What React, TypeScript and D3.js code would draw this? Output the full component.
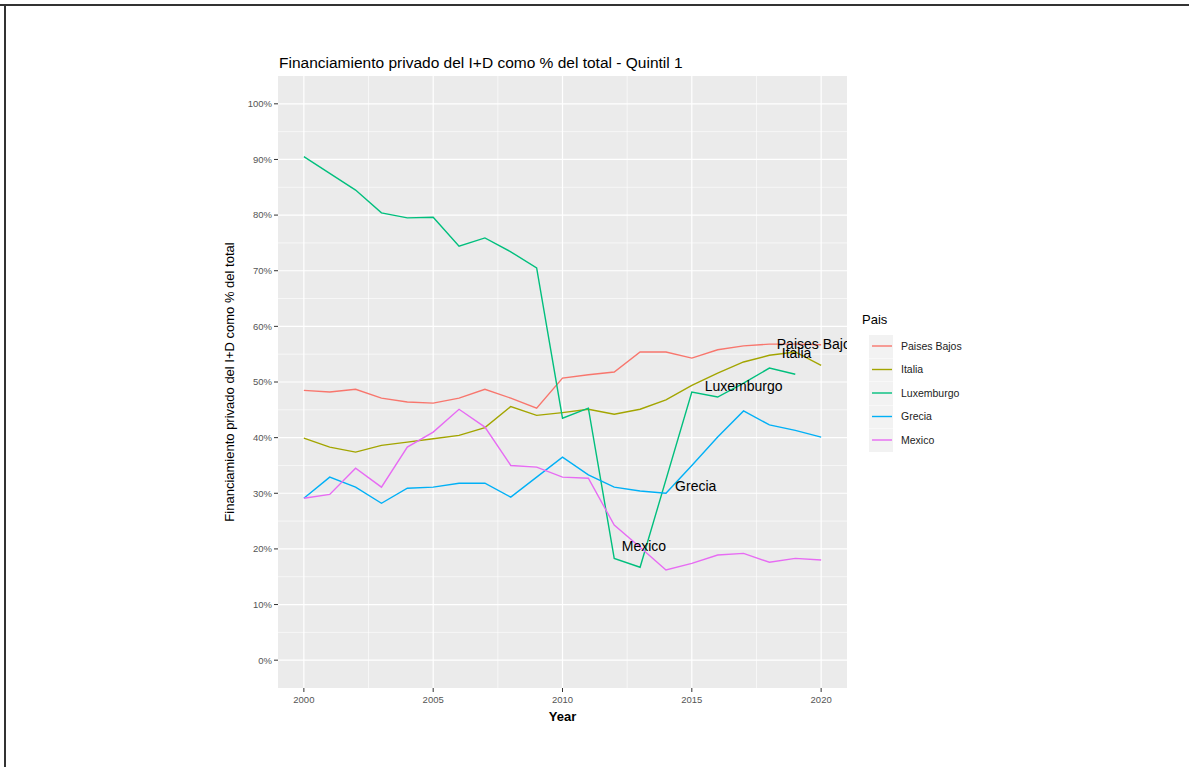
import React from "react";
import * as d3 from "d3";

const years = [2000, 2001, 2002, 2003, 2004, 2005, 2006, 2007, 2008, 2009, 2010, 2011, 2012, 2013, 2014, 2015, 2016, 2017, 2018, 2019, 2020];

const paisesBajos = [48.5, 48.2, 48.7, 47.1, 46.4, 46.2, 47.1, 48.7, 47.1, 45.3, 50.7, 51.3, 51.8, 55.4, 55.4, 54.3, 55.8, 56.5, 56.8, 56.8, 56.7];
const italia = [39.9, 38.3, 37.4, 38.6, 39.2, 39.8, 40.4, 41.8, 45.6, 44.0, 44.5, 45.1, 44.2, 45.1, 46.8, 49.4, 51.6, 53.6, 54.8, 55.4, 53.0];
const luxemburgo = [90.5, 87.5, 84.5, 80.4, 79.5, 79.6, 74.4, 75.9, 73.4, 70.5, 43.5, 45.3, 18.3, 16.7, null, 48.2, 47.3, 49.8, 52.5, 51.4, null];
const grecia = [29.1, 32.9, 31.1, 28.2, 30.9, 31.1, 31.8, 31.8, 29.3, 32.9, 36.5, 33.3, 31.1, 30.4, 30.0, 35.0, 40.1, 44.8, 42.3, 41.3, 40.1];
const mexico = [29.1, 29.8, 34.5, 31.1, 38.3, 41.0, 45.1, 41.9, 35.0, 34.7, 32.9, 32.7, 24.3, 20.3, 16.2, 17.4, 18.9, 19.2, 17.6, 18.3, 18.0];

const countries = ["Paises Bajos", "Italia", "Luxemburgo", "Grecia", "Mexico"];
const colors = ["#F8766D", "#A3A500", "#00BF7D", "#00B0F6", "#E76BF3"];
const seriesValues = [paisesBajos, italia, luxemburgo, grecia, mexico];

// direct labels (year, value) as placed in the original
const labelYears = [2019.85, 2019.05, 2017.0, 2015.15, 2013.15];
const labelValues = [56.9, 55.2, 49.3, 31.2, 20.5];

const yTicks = [0, 10, 20, 30, 40, 50, 60, 70, 80, 90, 100];
const xTicks = [2000, 2005, 2010, 2015, 2020];

const TITLE = "Financiamiento privado del I+D como % del total - Quintil 1";
const Y_TITLE = "Financiamiento privado del I+D como % del total";
const X_TITLE = "Year";
const LEGEND_TITLE = "Pais";

export default function App() {
  const W = 1189, H = 767;
  const panel = { left: 278, right: 847, top: 76, bottom: 688 };
  const x = d3.scaleLinear().domain([1999, 2021]).range([panel.left, panel.right]);
  const y = d3.scaleLinear().domain([-5, 105]).range([panel.bottom, panel.top]);

  const line = d3
    .line<[number, number]>()
    .x((d) => x(d[0]))
    .y((d) => y(d[1]));

  const xMinor = [2002.5, 2007.5, 2012.5, 2017.5];
  const yMinor = [5, 15, 25, 35, 45, 55, 65, 75, 85, 95];
  const font = "Liberation Sans, Arial, sans-serif";

  const legendX = 862, legendY0 = 346, legendStep = 23.5;

  return (
    <svg width={W} height={H} style={{ position: "absolute", left: 0, top: 0 }} fontFamily={font}>
      <rect x={0} y={0} width={W} height={H} fill="#fff" />
      <line x1={0} x2={W} y1={5} y2={5} stroke="#333" strokeWidth={2} />
      <line x1={5} x2={5} y1={5} y2={H} stroke="#333" strokeWidth={2} />
      <defs>
        <clipPath id="panelClip">
          <rect x={panel.left} y={panel.top} width={panel.right - panel.left} height={panel.bottom - panel.top} />
        </clipPath>
      </defs>
      <rect x={panel.left} y={panel.top} width={panel.right - panel.left} height={panel.bottom - panel.top} fill="#EBEBEB" />
      {yMinor.map((v) => (
        <line key={"ym" + v} x1={panel.left} x2={panel.right} y1={y(v)} y2={y(v)} stroke="#fff" strokeWidth={0.6} />
      ))}
      {xMinor.map((v) => (
        <line key={"xm" + v} y1={panel.top} y2={panel.bottom} x1={x(v)} x2={x(v)} stroke="#fff" strokeWidth={0.6} />
      ))}
      {yTicks.map((v) => (
        <line key={"yg" + v} x1={panel.left} x2={panel.right} y1={y(v)} y2={y(v)} stroke="#fff" strokeWidth={1.2} />
      ))}
      {xTicks.map((v) => (
        <line key={"xg" + v} y1={panel.top} y2={panel.bottom} x1={x(v)} x2={x(v)} stroke="#fff" strokeWidth={1.2} />
      ))}
      <g clipPath="url(#panelClip)">
        {seriesValues.map((vals, i) => {
          const pts = years
            .map((yr, j) => [yr, vals[j]] as [number, number | null])
            .filter((d) => d[1] != null) as [number, number][];
          return (
            <path key={countries[i]} d={line(pts) || ""} fill="none" stroke={colors[i]} strokeWidth={1.4} />
          );
        })}
        {countries.map((c, i) => (
          <text key={"lab" + c} x={x(labelYears[i])} y={y(labelValues[i])} dy="0.35em" textAnchor="middle" fontSize={14} fill="#000">
            {c}
          </text>
        ))}
      </g>
      {yTicks.map((v) => (
        <g key={"yt" + v}>
          <line x1={panel.left - 4} x2={panel.left} y1={y(v)} y2={y(v)} stroke="#333" strokeWidth={1} />
          <text x={panel.left - 6} y={y(v)} dy="0.35em" textAnchor="end" fontSize={9.5} fill="#555">
            {v + "%"}
          </text>
        </g>
      ))}
      {xTicks.map((v) => (
        <g key={"xt" + v}>
          <line x1={x(v)} x2={x(v)} y1={panel.bottom} y2={panel.bottom + 4} stroke="#333" strokeWidth={1} />
          <text x={x(v)} y={panel.bottom + 15} textAnchor="middle" fontSize={9.5} fill="#555">
            {v}
          </text>
        </g>
      ))}
      <text x={279} y={68} fontSize={15.5} fill="#000">
        {TITLE}
      </text>
      <text x={(panel.left + panel.right) / 2} y={721} textAnchor="middle" fontSize={13} fontWeight="bold" fill="#000">
        {X_TITLE}
      </text>
      <text
        transform={`translate(234,${(panel.top + panel.bottom) / 2}) rotate(-90)`}
        textAnchor="middle"
        fontSize={13}
        fill="#000"
      >
        {Y_TITLE}
      </text>
      <text x={legendX} y={324} fontSize={13} fill="#000">
        {LEGEND_TITLE}
      </text>
      {countries.map((c, i) => {
        const cy = legendY0 + i * legendStep;
        return (
          <g key={"leg" + c}>
            <rect x={legendX + 7} y={cy - 11} width={24} height={23} fill="#F2F2F2" />
            <line x1={legendX + 10} x2={legendX + 30} y1={cy} y2={cy} stroke={colors[i]} strokeWidth={1.4} />
            <text x={legendX + 39} y={cy} dy="0.35em" fontSize={10.5} fill="#222">
              {c}
            </text>
          </g>
        );
      })}
    </svg>
  );
}
